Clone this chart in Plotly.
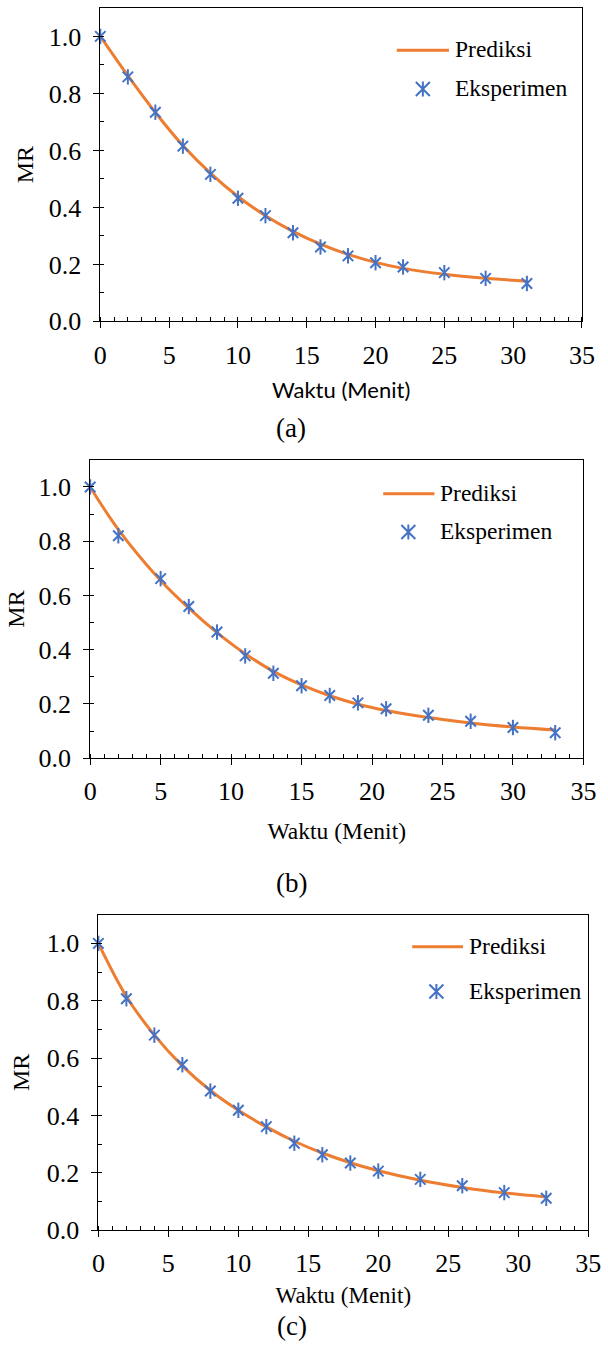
import plotly.graph_objects as go

W, H = 608, 1348

# ---------------- data ----------------
time_a = [0, 2, 4, 6, 8, 10, 12, 14, 16, 18, 20, 22, 25, 28, 31]
exp_a = [1.0, 0.858, 0.734, 0.615, 0.516, 0.432, 0.371, 0.311, 0.261, 0.230, 0.206, 0.191, 0.171, 0.151, 0.133]
pred_a = [1.0, 0.862, 0.733, 0.617, 0.520, 0.438, 0.371, 0.316, 0.271, 0.235, 0.207, 0.186, 0.165, 0.151, 0.141]

time_b = [0, 2, 5, 7, 9, 11, 13, 15, 17, 19, 21, 24, 27, 30, 33]
exp_b = [1.0, 0.820, 0.662, 0.559, 0.465, 0.377, 0.313, 0.267, 0.231, 0.204, 0.182, 0.158, 0.136, 0.113, 0.094]
pred_b = [1.0, 0.843, 0.655, 0.553, 0.463, 0.385, 0.320, 0.270, 0.230, 0.199, 0.176, 0.150, 0.130, 0.115, 0.104]

time_c = [0, 2, 4, 6, 8, 10, 12, 14, 16, 18, 20, 23, 26, 29, 32]
exp_c = [1.0, 0.807, 0.680, 0.577, 0.485, 0.418, 0.361, 0.303, 0.263, 0.234, 0.206, 0.177, 0.155, 0.131, 0.111]
pred_c = [1.0, 0.815, 0.680, 0.573, 0.487, 0.418, 0.360, 0.310, 0.269, 0.235, 0.207, 0.174, 0.149, 0.130, 0.116]

panel_labels = ["(a)", "(b)", "(c)"]
x_title = "Waktu (Menit)"
y_title = "MR"
series_names = ["Prediksi", "Eksperimen"]
y_tickvals = [0.0, 0.2, 0.4, 0.6, 0.8, 1.0]
x_tickvals = [0, 5, 10, 15, 20, 25, 30, 35]

# ---------------- style ----------------
ORANGE = "#ED7D31"
BLUE = "#4472C4"
SERIF = "Liberation Serif"
SANS = "Lato"


def px(xp):
    return xp / W


def py(yp):
    return 1 - yp / H


panels = [
    dict(t=time_a, e=exp_a, p=pred_a, box=(96.5, 594.5, 8, 325),
         xtitle_font=dict(family=SANS, size=22, color="black"), xstand=14, ystand=8,
         leg=dict(l0=403, l1=457, ly=50.7, tx=461, ty1=50, mx=430, my=90, ty2=89),
         lab=(294, 433)),
    dict(t=time_b, e=exp_b, p=pred_b, box=(86, 596, 465, 766.7),
         xtitle_font=dict(family=SERIF, size=23.5, color="black"), xstand=17, ystand=7,
         leg=dict(l0=389, l1=442, ly=499.3, tx=446, ty1=499, mx=415, my=538, ty2=537),
         lab=(294, 893)),
    dict(t=time_c, e=exp_c, p=pred_c, box=(94.5, 601, 925, 1244),
         xtitle_font=dict(family=SERIF, size=23, color="black"), xstand=9, ystand=10,
         leg=dict(l0=419, l1=471.5, ly=957.3, tx=476, ty1=957, mx=444, my=1002.7, ty2=1002),
         lab=(294.6, 1341)),
]

fig = go.Figure()
layout = dict(
    width=W, height=H,
    margin=dict(l=0, r=0, t=0, b=0),
    paper_bgcolor="white", plot_bgcolor="white",
    showlegend=False,
    shapes=[], annotations=[],
)

star_path = "M-7,-7L7,7M-7,7L7,-7M0,-7.5L0,7.5"

for i, pnl in enumerate(panels):
    n = "" if i == 0 else str(i + 1)
    xa, ya = "x" + n, "y" + n
    x0, x1, ytop, ybot = pnl["box"]

    fig.add_trace(go.Scatter(
        x=pnl["t"], y=pnl["p"], mode="lines", name=series_names[0],
        line=dict(color=ORANGE, width=3, shape="spline", smoothing=1.0),
        xaxis=xa, yaxis=ya, cliponaxis=False))
    fig.add_trace(go.Scatter(
        x=pnl["t"], y=pnl["e"], mode="markers", name=series_names[1],
        marker=dict(symbol="x-thin", size=10.5, color=BLUE, line=dict(width=2, color=BLUE)),
        xaxis=xa, yaxis=ya, cliponaxis=False))
    fig.add_trace(go.Scatter(
        x=pnl["t"], y=pnl["e"], mode="markers", name=series_names[1], showlegend=False,
        marker=dict(symbol="line-ns", size=11, color=BLUE, line=dict(width=2, color=BLUE)),
        xaxis=xa, yaxis=ya, cliponaxis=False))

    layout["xaxis" + n] = dict(
        domain=[px(x0), px(x1)], anchor=ya, range=[0, 35],
        tickvals=x_tickvals, ticks="outside", ticklen=6, tickwidth=1, tickcolor="black",
        minor=dict(ticks="inside", dtick=1, ticklen=4, tickwidth=1, tickcolor="black"),
        showline=True, linecolor="black", linewidth=1, mirror=True,
        showgrid=False, zeroline=False,
        tickfont=dict(family=SERIF, size=26, color="black"), ticklabelstandoff=4,
        title=dict(text=x_title, font=pnl["xtitle_font"], standoff=pnl["xstand"]),
    )
    layout["yaxis" + n] = dict(
        domain=[py(ybot), py(ytop)], anchor=xa, range=[0, 1.1],
        tickvals=y_tickvals, tickformat=".1f", ticks="outside", ticklen=6, tickwidth=1,
        tickcolor="black",
        minor=dict(ticks="inside", dtick=0.1, ticklen=4, tickwidth=1, tickcolor="black"),
        showline=True, linecolor="black", linewidth=1, mirror=True,
        showgrid=False, zeroline=False,
        tickfont=dict(family=SERIF, size=26, color="black"), ticklabelstandoff=7,
        title=dict(text=y_title, font=dict(family=SERIF, size=24, color="black"),
                   standoff=pnl["ystand"]),
    )

    lg = pnl["leg"]
    layout["shapes"].append(dict(
        type="line", xref="paper", yref="paper",
        x0=px(lg["l0"]), x1=px(lg["l1"]), y0=py(lg["ly"]), y1=py(lg["ly"]),
        line=dict(color=ORANGE, width=3)))
    layout["shapes"].append(dict(
        type="path", xref="paper", yref="paper",
        xsizemode="pixel", ysizemode="pixel",
        xanchor=px(lg["mx"]), yanchor=py(lg["my"]),
        path=star_path, line=dict(color=BLUE, width=2)))
    layout["annotations"].append(dict(
        text=series_names[0], xref="paper", yref="paper", x=px(lg["tx"]), y=py(lg["ty1"]),
        xanchor="left", yanchor="middle", showarrow=False,
        font=dict(family=SERIF, size=23.5, color="black")))
    layout["annotations"].append(dict(
        text=series_names[1], xref="paper", yref="paper", x=px(lg["tx"]), y=py(lg["ty2"]),
        xanchor="left", yanchor="middle", showarrow=False,
        font=dict(family=SERIF, size=23.5, color="black")))
    lx, ly = pnl["lab"]
    layout["annotations"].append(dict(
        text=panel_labels[i], xref="paper", yref="paper", x=px(lx), y=py(ly),
        xanchor="center", yanchor="middle", showarrow=False,
        font=dict(family=SERIF, size=27, color="black")))

fig.update_layout(**layout)
fig.write_html("out.html")
